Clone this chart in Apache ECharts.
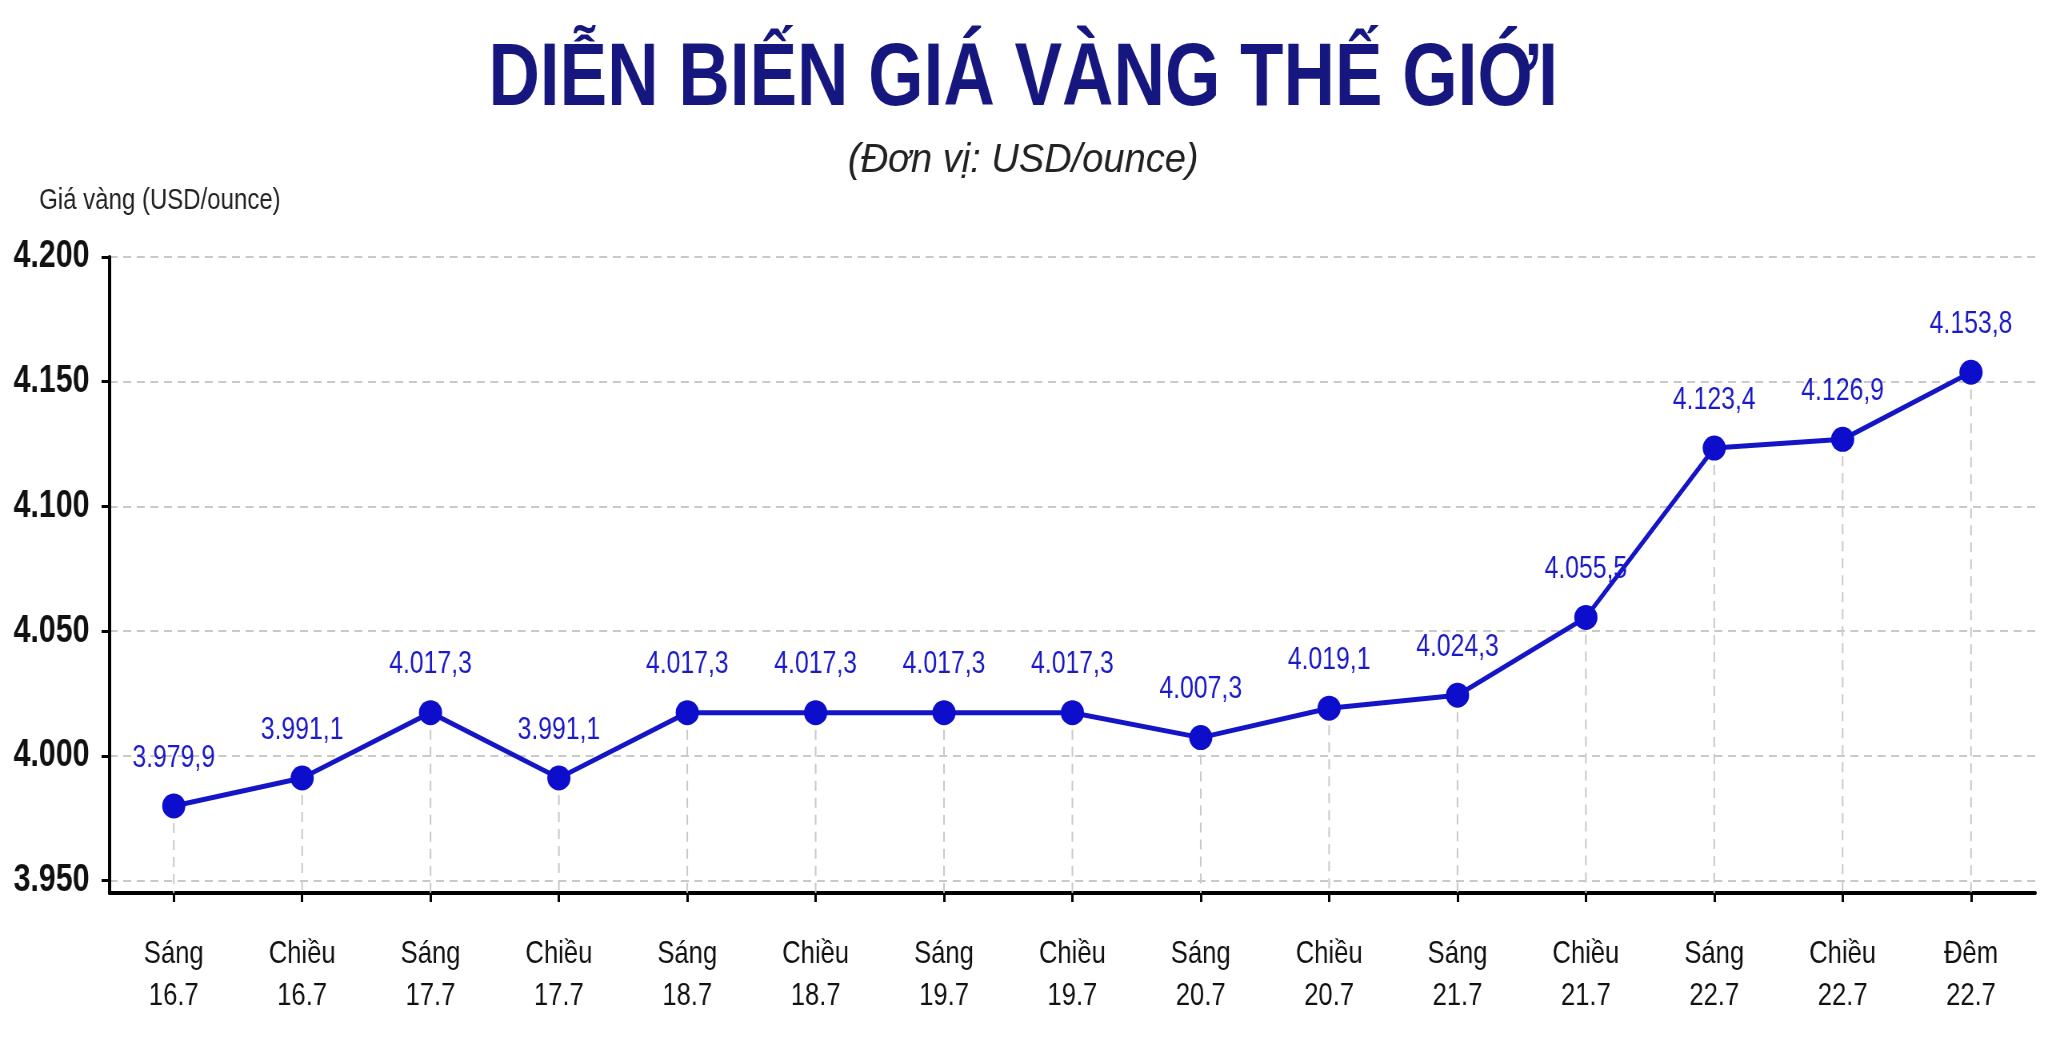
<!DOCTYPE html>
<html>
<head>
<meta charset="utf-8">
<script src="https://cdn.jsdelivr.net/npm/echarts@6/dist/echarts.min.js"></script>
<style>
html,body{margin:0;padding:0;background:#fff;overflow:hidden;width:2046px;height:1044px;}
#chart{width:2558px;height:1044px;transform:scaleX(0.8);transform-origin:0 0;}
</style>
</head>
<body>
<div id="chart"></div>
<script>
const periods = ['Sáng','Chiều','Sáng','Chiều','Sáng','Chiều','Sáng','Chiều','Sáng','Chiều','Sáng','Chiều','Sáng','Chiều','Đêm'];
const dates = ['16.7','16.7','17.7','17.7','18.7','18.7','19.7','19.7','20.7','20.7','21.7','21.7','22.7','22.7','22.7'];
const prices = [3979.9, 3991.1, 4017.3, 3991.1, 4017.3, 4017.3, 4017.3, 4017.3, 4007.3, 4019.1, 4024.3, 4055.5, 4123.4, 4126.9, 4153.8];
const yTicks = [3950, 4000, 4050, 4100, 4150, 4200];
const titleText = 'DIỄN BIẾN GIÁ VÀNG THẾ GIỚI';
const subtitleText = '(Đơn vị: USD/ounce)';
const yAxisName = 'Giá vàng (USD/ounce)';

const categories = periods.map((p, i) => p + '\n' + dates[i]);
const Y_MIN = 3945, Y_MAX = 4200;
const FONT = '"Liberation Sans", Arial, sans-serif';
const CX = 2558 / 2;

function fmtThousands(v){
  return String(Math.round(v)).replace(/\B(?=(\d{3})+(?!\d))/g, '.');
}
function fmtPrice(v){
  const s = v.toFixed(1).split('.');
  return s[0].replace(/\B(?=(\d{3})+(?!\d))/g, '.') + ',' + s[1];
}

const chart = echarts.init(document.getElementById('chart'));
chart.setOption({
  backgroundColor: '#ffffff',
  animation: false,
  graphic: [
    { type: 'text', x: CX, y: 36, style: { text: titleText, fill: '#16167f', font: 'bold 89px ' + FONT, align: 'center', verticalAlign: 'top' } },
    { type: 'text', x: CX, y: 140, scaleX: 1.16, style: { text: subtitleText, fill: '#222', font: 'italic 41px ' + FONT, align: 'center', verticalAlign: 'top' } },
    { type: 'text', x: 49, y: 186, style: { text: yAxisName, fill: '#222', font: '30px ' + FONT, align: 'left', verticalAlign: 'top' } }
  ],
  grid: { left: 137, right: 14, top: 257, bottom: 151, containLabel: false },
  xAxis: {
    type: 'category',
    data: categories,
    boundaryGap: true,
    axisLine: { lineStyle: { color: '#000', width: 4 } },
    axisTick: { show: true, alignWithLabel: true, length: 9, lineStyle: { color: '#000', width: 3 } },
    axisLabel: { margin: 40, color: '#111', fontFamily: FONT, fontSize: 32, lineHeight: 42, interval: 0 },
    splitLine: { show: false }
  },
  yAxis: {
    type: 'value',
    min: Y_MIN, max: Y_MAX,
    axisLine: { show: true, lineStyle: { color: '#000', width: 4 } },
    axisTick: { show: true, length: 10, customValues: yTicks, lineStyle: { color: '#000', width: 3 } },
    axisLabel: { customValues: yTicks, margin: 25, color: '#111', fontWeight: 'bold', fontSize: 38, fontFamily: FONT, formatter: v => fmtThousands(v) },
    splitLine: { show: true, lineStyle: { color: '#c9c9c9', width: 2, type: [10, 7] } }
  },
  series: [
    {
      type: 'custom',
      z: 1,
      silent: true,
      renderItem: function(params, api){
        const top = api.coord([api.value(0), api.value(1)]);
        const bottom = api.coord([api.value(0), Y_MIN]);
        return { type: 'line', shape: { x1: top[0], y1: top[1], x2: bottom[0], y2: bottom[1] }, style: { stroke: '#c9c9c9', lineWidth: 2, lineDash: [10, 7] } };
      },
      data: prices.map((v, i) => [i, v])
    },
    {
      type: 'line',
      z: 3,
      data: prices,
      symbol: 'circle',
      symbolSize: [29, 25],
      lineStyle: { color: '#1515c8', width: 5 },
      itemStyle: { color: '#0d0dcc' },
      label: { show: true, position: 'top', distance: 20, color: '#1a1ac8', fontFamily: FONT, fontSize: 31, formatter: p => fmtPrice(p.value) }
    }
  ]
});
</script>
</body>
</html>
